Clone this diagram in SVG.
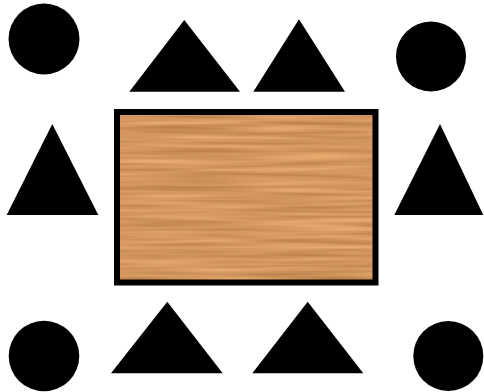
<svg xmlns="http://www.w3.org/2000/svg" width="484" height="392" viewBox="0 0 484 392">
  <style>
    .seat { fill: #000; }
    .border { fill: none; stroke: #000; stroke-width: 6; }
  </style>
  <defs>
    <filter id="wood" x="0" y="0" width="100%" height="100%" color-interpolation-filters="sRGB">
      <feTurbulence type="fractalNoise" baseFrequency="0.008 0.22" numOctaves="2" seed="7" result="n"/>
      <feColorMatrix in="n" type="matrix" values="0.26 0 0 0 0.70  0.26 0 0 0 0.46  0.22 0 0 0 0.26  0 0 0 0 1" result="c"/>
      <feComposite in="c" in2="SourceGraphic" operator="in"/>
    </filter>
  </defs>
  <rect width="484" height="392" fill="#fff"/>
  <g id="table">
    <rect x="117" y="112" width="258.5" height="170.5" fill="#d4955e" filter="url(#wood)"/>
    <rect class="border" x="117" y="112" width="258.5" height="170.5"/>
  </g>
  <g id="stool-top-left"><circle class="seat" cx="44" cy="39" r="35.5"/></g>
  <g id="stool-top-right"><circle class="seat" cx="431" cy="56.5" r="35"/></g>
  <g id="stool-bottom-left"><circle class="seat" cx="44" cy="356" r="35.3"/></g>
  <g id="stool-bottom-right"><circle class="seat" cx="448.3" cy="356" r="35"/></g>
  <g id="chair-top-1"><polygon class="seat" points="184.3,20 240,91.7 129.3,91.7"/></g>
  <g id="chair-top-2"><polygon class="seat" points="299,19.3 345,91.7 253.3,91.7"/></g>
  <g id="chair-left"><polygon class="seat" points="52.3,124 98.3,215 6.7,215"/></g>
  <g id="chair-right"><polygon class="seat" points="440,124 483.3,215 394.3,215"/></g>
  <g id="chair-bottom-1"><polygon class="seat" points="167.3,301.7 222.7,373.3 111,373.3"/></g>
  <g id="chair-bottom-2"><polygon class="seat" points="307.7,301.7 363.3,373.3 252.3,373.3"/></g>
  <g id="connectors"/>
</svg>
